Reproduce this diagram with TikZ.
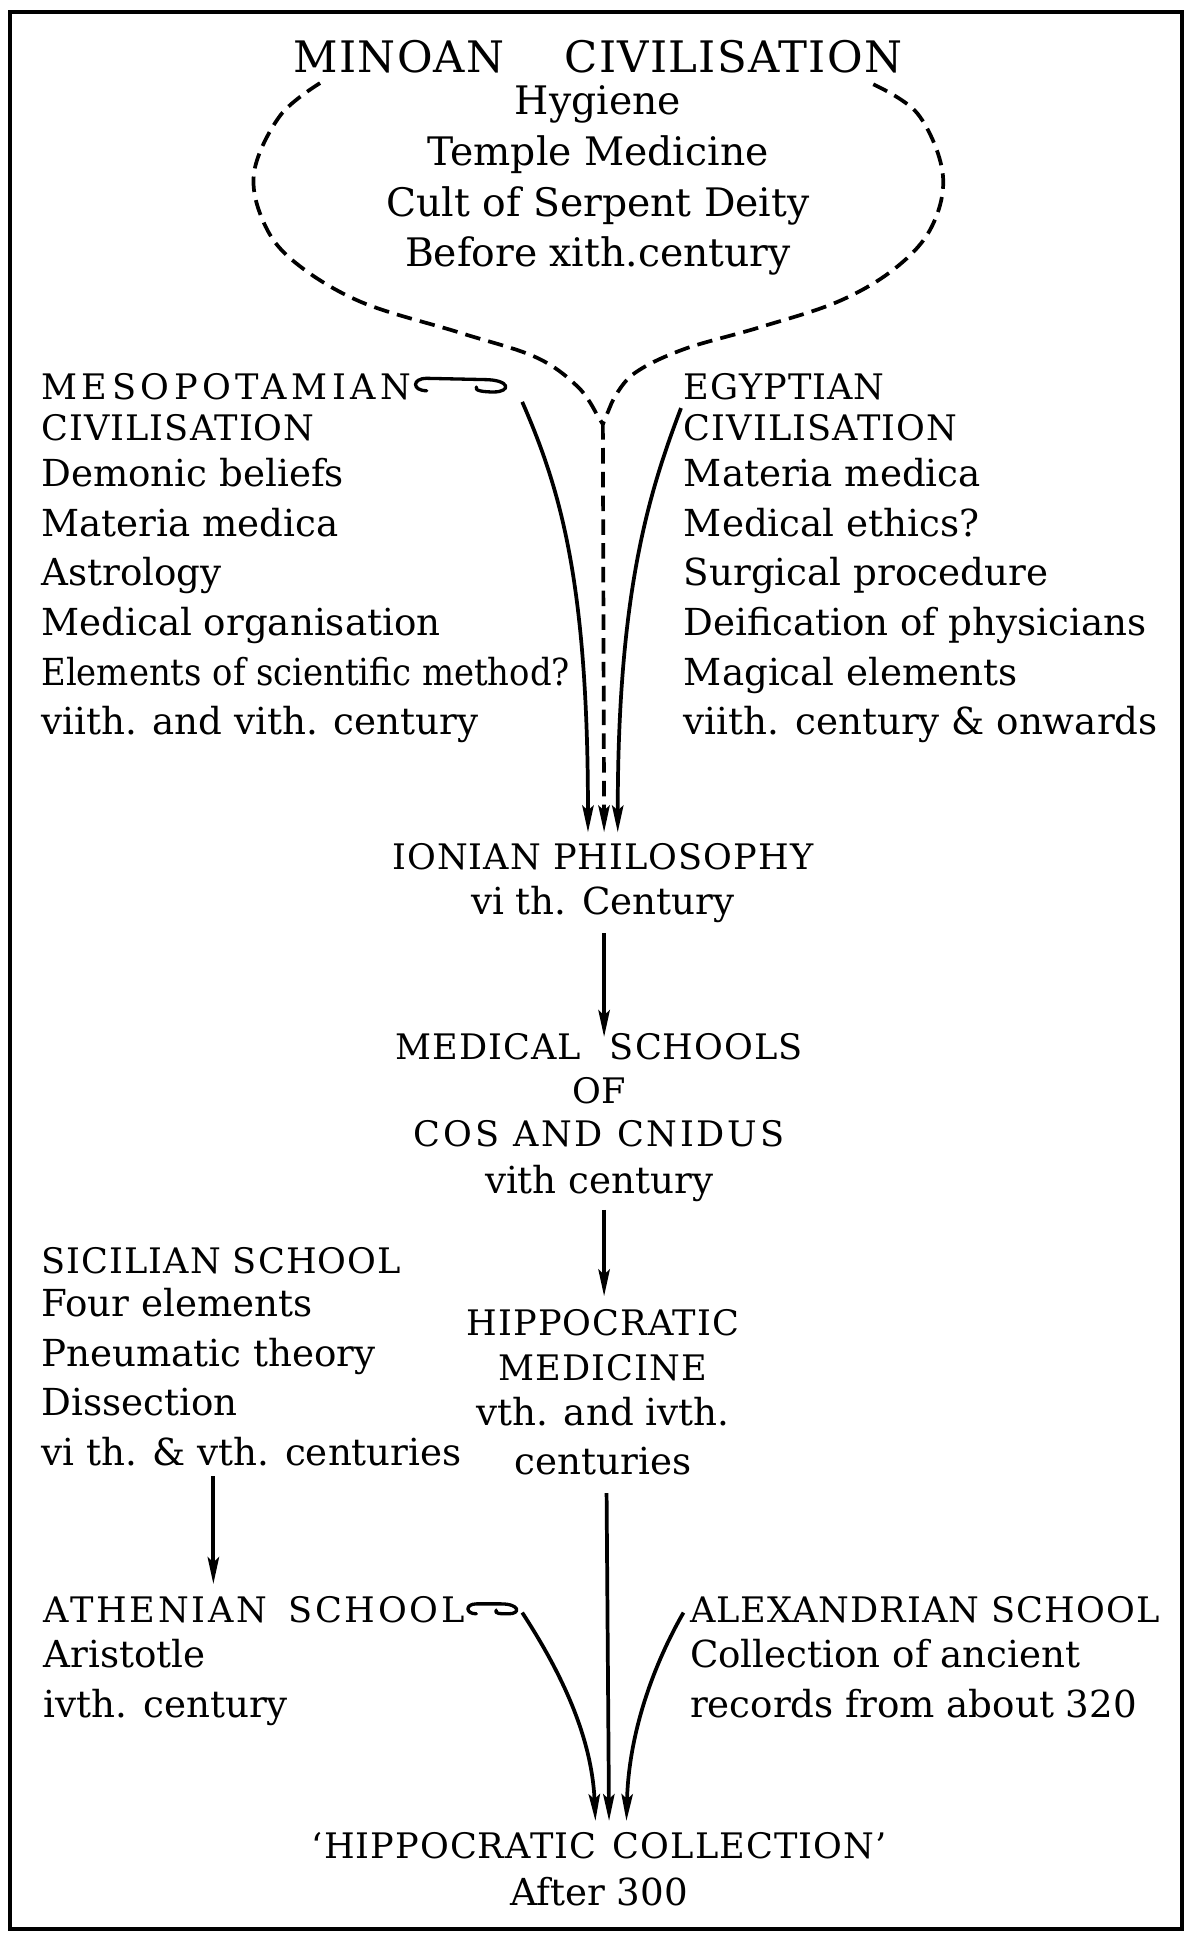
\documentclass[tikz,border=0pt]{standalone}
\usepackage{fontspec}
\usepackage{graphicx}
\setmainfont{DejaVu Serif}
\newfontfamily\capsfont[LetterSpace=3]{DejaVu Serif}
\newfontfamily\widecaps[LetterSpace=8]{DejaVu Serif}
\newfontfamily\widestcaps[LetterSpace=13]{DejaVu Serif}
\newcommand{\hd}[1]{{\capsfont\fontsize{17}{20}\selectfont #1}}
\usetikzlibrary{arrows.meta,calc}
\begin{document}
\begin{tikzpicture}[x=0.6pt,y=-0.6pt,
  txt/.style={inner sep=0pt, font=\fontsize{18}{24}\selectfont},
  tip/.style={-{Stealth[length=13pt,width=5.5pt,inset=2.5pt]}},
  arr/.style={line width=1.8pt, tip},
  dsh/.style={line width=1.8pt, dash pattern=on 7.5pt off 4pt},
  hk/.style={line width=1.6pt, line cap=round, line join=round},
  frame/.style={line width=2pt}]
\useasboundingbox (0,0) rectangle (967,1568);
\draw[frame] (8,10) rectangle (953,1555);

% Minoan
\node[txt, font=\fontsize{19}{24.5}\selectfont, anchor=north, align=center] (minoan) at (482,32)
  {{\capsfont\fontsize{21}{20}\selectfont MINOAN\hspace{29pt}CIVILISATION}\\[-4pt]
   Hygiene\\ Temple Medicine\\ Cult of Serpent Deity\\ Before xith.century};

% Mesopotamian
\node[txt, anchor=north west, align=left] (meso) at (33,301)
  {{\widestcaps\fontsize{17}{20}\selectfont MESOPOTAMIAN}\\[-4.2pt]\hd{CIVILISATION}\\[-1.8pt]
   Demonic beliefs\\ Materia medica\\ Astrology\\ Medical organisation\\
   \scalebox{0.91}[1]{Elements of scientific method?}\\ viith. and vith. century};

% Egyptian
\node[txt, anchor=north west, align=left] (egypt) at (551,301)
  {\hd{EGYPTIAN}\\[-4.2pt]\hd{CIVILISATION}\\[-1.8pt]
   Materia medica\\ Medical ethics?\\ Surgical procedure\\ Deification of physicians\\
   Magical elements\\ viith. century \& onwards};

% Ionian
\node[txt, anchor=north, align=center] (ionian) at (486,680)
  {\hd{IONIAN PHILOSOPHY}\\[-2.4pt] vi th. Century};

% Medical schools
\node[txt, anchor=north, align=center] (medical) at (483,833)
  {\hd{MEDICAL\hspace{14pt}SCHOOLS}\\[-3pt]\hd{OF}\\[-3pt]{\widecaps\fontsize{17}{20}\selectfont COS AND CNIDUS}\\[-1.2pt] vith century};

% Sicilian
\node[txt, anchor=north west, align=left] (sicil) at (33,1005)
  {\hd{SICILIAN SCHOOL}\\[-3pt] Four elements\\ Pneumatic theory\\ Dissection\\ vi th. \& vth. centuries};

% Hippocratic medicine
\node[txt, anchor=north, align=center] (hippo) at (486,1055)
  {\hd{HIPPOCRATIC}\\[-2pt]\hd{MEDICINE}\\[-2.4pt] vth. and ivth.\\ centuries};

% Athenian
\node[txt, anchor=north west, align=left] (athen) at (35,1287)
  {{\widecaps\fontsize{17}{20}\selectfont ATHENIAN\hspace{10pt}SCHOOL}\\[-2.4pt] Aristotle\\ ivth. century};

% Alexandrian
\node[txt, anchor=north west, align=left] (alex) at (556,1287)
  {\hd{ALEXANDRIAN SCHOOL}\\[-2.4pt] Collection of ancient\\ records from about 320};

% Hippocratic collection
\node[txt, anchor=north, align=center] (coll) at (483,1477)
  {\hd{‘HIPPOCRATIC\hspace{8pt}COLLECTION’}\\[-1.2pt] After 300};

% dashed Minoan outline
\coordinate (cusp) at ($(minoan.north)+(4,310)$);
\draw[dsh] plot[smooth, tension=0.6] coordinates {(258,67) (226,93) (205,138) (212,178) (236,210) (290,243) (370,268) (432,288) (466,312) (481,334)} -- (cusp);
\draw[dsh] plot[smooth, tension=0.6] coordinates {(704,68) (740,92) (760,140) (751,183) (722,216) (676,243) (612,264) (550,282) (510,302) (493,325)} -- (cusp);
\draw[dsh, tip] (cusp) -- ($(ionian.north)+(1,-9)$);

% hooks
\coordinate (mesoHook) at ($(meso.north west)+(311,14)$);
\draw[hk] (mesoHook) .. controls +(-12,0) and +(-12,0) .. ++(0,-10) -- ++(46,1)
   .. controls +(22,0) and +(14,0) .. ++(8,10) .. controls +(-8,0) and +(-2,3) .. ++(-14,-4);
\coordinate (athenHook) at ($(athen.north west)+(349,14)$);
\draw[hk] (athenHook) .. controls +(-9,0) and +(-9,0) .. ++(0,-8) -- ++(20,0)
   .. controls +(15,0) and +(10,0) .. ++(6,8) .. controls +(-6,0) and +(-2,3) .. ++(-10,-3);

% upper arrows to Ionian
\coordinate (mesoOut) at ($(meso.north west)+(388,23)$);
\coordinate (egyptOut) at ($(egypt.north west)+(-2,28)$);
\draw[arr] (mesoOut) .. controls (452,395) and (474,470) .. ($(ionian.north)+(-12,-9)$);
\draw[arr] (egyptOut) .. controls (522,400) and (498,480) .. ($(ionian.north)+(12,-9)$);

% chain
\draw[arr] ($(ionian.south)+(1,8)$) -- ($(medical.north)+(4,3)$);
\draw[arr] ($(medical.south)+(4,6)$) -- ($(hippo.north)+(1,-10)$);
\draw[arr] ($(sicil.south west)+(139,8)$) -- ($(athen.north west)+(137,-10)$);
\draw[arr] ($(hippo.south)+(3,14)$) -- ($(coll.north)+(8,-9)$);

% lower arrows to collection
\coordinate (athenOut) at ($(athen.north west)+(386,13)$);
\coordinate (alexOut) at ($(alex.north west)+(-5,13)$);
\draw[arr] (athenOut) .. controls (447,1340) and (477,1395) .. ($(coll.north)+(-3,-9)$);
\draw[arr] (alexOut) .. controls (528,1340) and (507,1395) .. ($(coll.north)+(22,-9)$);
\end{tikzpicture}
\end{document}
